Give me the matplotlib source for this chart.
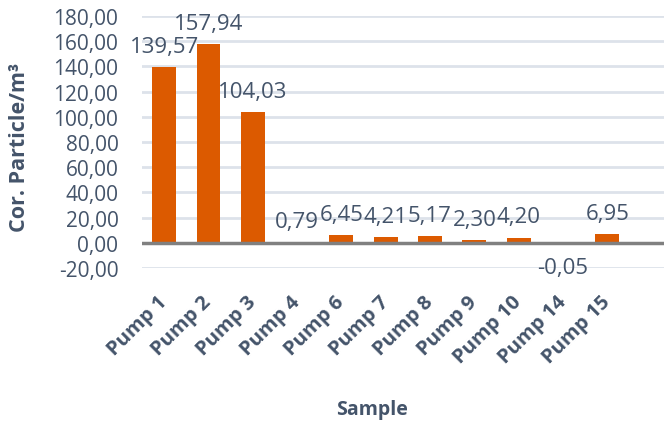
import numpy as np
import matplotlib
matplotlib.use("Agg")
import matplotlib.pyplot as plt

# data
samples = ["Pump 1", "Pump 2", "Pump 3", "Pump 4", "Pump 6", "Pump 7",
           "Pump 8", "Pump 9", "Pump 10", "Pump 14", "Pump 15"]
values = [139.57, 157.94, 104.03, 0.79, 6.45, 4.21, 5.17, 2.30, 4.20, -0.05, 6.95]
yticks = [-20, 0, 20, 40, 60, 80, 100, 120, 140, 160, 180]

txt = "#44546a"
plt.rcParams["font.family"] = ["Open Sans", "DejaVu Sans"]

fig = plt.figure(figsize=(6.64, 4.27), dpi=100)
ax = fig.add_axes([142/664, 1-269/427, 1-142/664, (269-17)/427])

x = np.arange(len(samples))
ax.bar(x, values, width=0.54, color="#dc5a00", zorder=3)

# labels on the bars, comma decimals
for xi, v in zip(x, values):
    lab = ("%.2f" % v).replace(".", ",")
    if v < 0:
        ax.text(xi, v - 11, lab, ha="center", va="top", fontsize=16, color=txt)
    else:
        ax.text(xi, v + 8, lab, ha="center", va="bottom", fontsize=16, color=txt)

ax.set_ylim(-20, 180)
ax.set_xlim(-0.5, 11.28)
ax.set_yticks(yticks)
ax.set_yticklabels([("%.2f" % t).replace(".", ",") for t in yticks], fontsize=15, color=txt)
ax.set_xticks(x)
ax.set_xticklabels(samples, rotation=45, ha="right", va="center",
                   rotation_mode="anchor", fontsize=14.5, color=txt, fontweight="bold")
ax.tick_params(axis="both", length=0)
ax.tick_params(axis="y", pad=17)
ax.tick_params(axis="x", pad=22)

ax.grid(axis="y", color="#dde2ea", linewidth=2, zorder=0)
ax.axhline(0, color="#808080", linewidth=2.5, zorder=4)
for s in ax.spines.values():
    s.set_visible(False)

ax.set_ylabel("Cor. Particle/m³", fontsize=15.5, color=txt, fontweight="bold")
ax.yaxis.set_label_coords(-0.215, 0.484)
ax.set_xlabel("Sample", fontsize=14, color=txt, fontweight="bold")
ax.xaxis.set_label_coords(0.44, -0.52)

fig.savefig("out.png", dpi=100)
